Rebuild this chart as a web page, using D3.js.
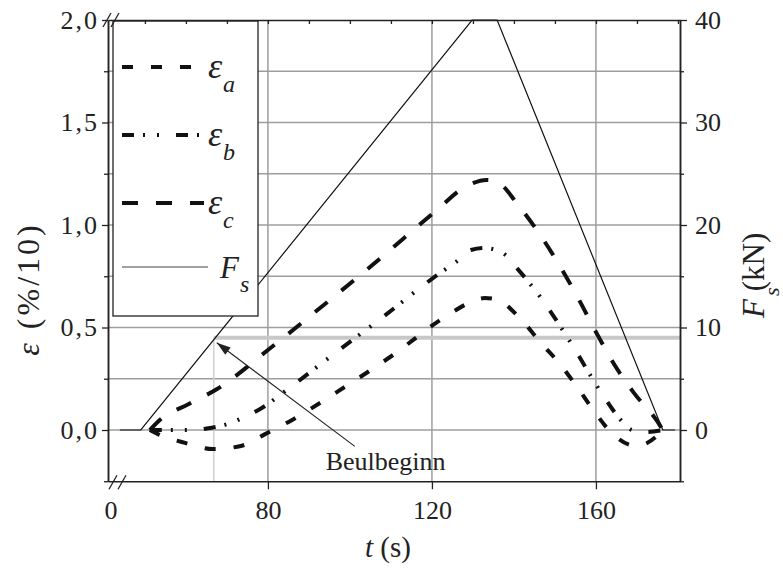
<!DOCTYPE html>
<html><head><meta charset="utf-8">
<script src="https://cdn.jsdelivr.net/npm/d3@7"></script>
<style>
body{margin:0;background:#fff}
svg{display:block}
</style>
</head><body>
<svg id="c" width="783" height="569"></svg>
<script>
// ---- data ----
const tA   = [51.2, 53.2, 59.8, 66.6, 73.4, 79.3, 85.9, 96.8, 109.8, 123.9, 129.5, 132.9, 136.1, 141.2, 146.8, 151.0, 155.4, 159.5, 164.1, 169.8, 175.6, 176.3];
const epsA = [0, -0.02, -0.063, -0.093, -0.078, -0.02, 0.049, 0.185, 0.356, 0.561, 0.624, 0.644, 0.634, 0.551, 0.42, 0.327, 0.21, 0.093, -0.02, -0.078, -0.015, 0];
const tB   = [51.2, 60.7, 65.9, 69.5, 73.9, 78.5, 83.9, 95.1, 107.3, 122.0, 125.9, 129.5, 132.7, 137.3, 140.7, 146.6, 153.9, 161.2, 166.3, 168.8, 172.0, 176.3];
const epsB = [0, 0, 0.01, 0.025, 0.06, 0.107, 0.185, 0.356, 0.54, 0.766, 0.82, 0.878, 0.888, 0.863, 0.79, 0.644, 0.424, 0.185, 0.044, 0, -0.01, 0];
const tC   = [51.2, 53.7, 60.7, 67.6, 80, 92.7, 104.9, 121.2, 128.0, 133.4, 135.9, 141.2, 151.5, 155.9, 160, 164.4, 169.3, 174.9, 176.3];
const epsC = [0, 0.05, 0.127, 0.2, 0.39, 0.595, 0.795, 1.073, 1.185, 1.22, 1.21, 1.093, 0.79, 0.634, 0.478, 0.322, 0.18, 0.044, 0];
const tF   = [43.9, 49.0, 129.8, 135.9, 176.3, 179.3];
const Fs   = [0, 0, 40, 40, 0, 0];
const tBeul = 66.8, FBeul = 9;
const xTicks = [80, 120, 160];
const xMinor = [50, 60, 70, 80, 90, 100, 110, 120, 130, 140, 150, 160, 170, 180];
const yTicks = [0, 0.5, 1.0, 1.5, 2.0];
const yMinor = [-0.25, 0.25, 0.75, 1.25, 1.75];
const fTicks = [0, 10, 20, 30, 40];
const fMinor = [-5, 5, 15, 25, 35];
const gridY = [0, 0.25, 0.5, 0.75, 1.0, 1.25, 1.5, 1.75];
const legendNames = ["a", "b", "c"];

const FONT = "'Liberation Serif'";

// ---- scales ----
const svg = d3.select('#c');
const x  = d3.scaleLinear().domain([41, 180.5]).range([108, 680]);
const yL = d3.scaleLinear().domain([-0.25, 2.0]).range([481.25, 20]);
const yR = d3.scaleLinear().domain([-5, 40]).range([481.25, 20]);
const X0 = x.range()[0], X1 = x.range()[1], Y0 = yL.range()[0], Y1 = yL.range()[1];

function txt(sel, size, italic) {
  return sel.attr('font-family', null).style('font-family', FONT).style('font-size', size + 'px')
    .style('font-style', italic ? 'italic' : 'normal').style('fill', '#222');
}

// ---- grid ----
const grid = svg.append('g');
grid.selectAll('.gy').data(gridY).join('line')
  .attr('x1', X0).attr('x2', X1).attr('y1', d => yL(d)).attr('y2', d => yL(d))
  .attr('stroke', '#9e9e9e').attr('stroke-width', 1.5);
grid.selectAll('.gx').data(xTicks).join('line')
  .attr('x1', d => x(d)).attr('x2', d => x(d)).attr('y1', Y1).attr('y2', Y0)
  .attr('stroke', '#9e9e9e').attr('stroke-width', 1.5);

// Beulbeginn marker lines
svg.append('line').attr('x1', x(tBeul)).attr('x2', X1).attr('y1', yR(FBeul)).attr('y2', yR(FBeul))
  .attr('stroke', '#c8c8c8').attr('stroke-width', 4);
svg.append('line').attr('x1', x(tBeul)).attr('x2', x(tBeul)).attr('y1', yR(FBeul)).attr('y2', Y0)
  .attr('stroke', '#d2d2d2').attr('stroke-width', 1.5);

// ---- lines ----
const lineL = d3.line().x(d => x(d[0])).y(d => yL(d[1])).curve(d3.curveMonotoneX);
const lineF = d3.line().x(d => x(d[0])).y(d => yR(d[1]));
const styles = {
  a: {dash: '11,18'},
  b: {dash: '12,9,2,12,2,17'},
  c: {dash: '16,18'}
};
svg.append('path').attr('d', lineF(d3.zip(tF, Fs)))
  .attr('fill', 'none').attr('stroke', '#111').attr('stroke-width', 1.2);
[[tA, epsA, 'a'], [tB, epsB, 'b'], [tC, epsC, 'c']].forEach(([t, e, k]) => {
  svg.append('path').attr('d', lineL(d3.zip(t, e)))
    .attr('fill', 'none').attr('stroke', '#111').attr('stroke-width', 4)
    .attr('stroke-dasharray', styles[k].dash);
});

// ---- legend ----
const lg = svg.append('g');
lg.append('rect').attr('x', 113).attr('y', 21).attr('width', 145).attr('height', 295)
  .attr('fill', '#fff').attr('stroke', '#222').attr('stroke-width', 1.3);
legendNames.forEach((k, i) => {
  const yy = 67 + i * 68;
  lg.append('line').attr('x1', 122).attr('x2', 204).attr('y1', yy).attr('y2', yy)
    .attr('stroke', '#111').attr('stroke-width', 4).attr('stroke-dasharray', styles[k].dash);
  txt(lg.append('text').attr('x', 208).attr('y', yy + 11), 36, true).text('ε');
  txt(lg.append('text').attr('x', 223).attr('y', yy + 25), 24, true).text(k);
});
lg.append('line').attr('x1', 122).attr('x2', 208).attr('y1', 267).attr('y2', 267)
  .attr('stroke', '#808080').attr('stroke-width', 1.5);
txt(lg.append('text').attr('x', 220).attr('y', 278), 31, true).text('F');
txt(lg.append('text').attr('x', 240).attr('y', 292), 24, true).text('s');

// ---- axes ----
const fmt = d => d.toFixed(1).replace('.', ',');
const axL = svg.append('g').attr('transform', `translate(${X0},0)`)
  .call(d3.axisLeft(yL).tickValues(yTicks).tickSize(6).tickSizeOuter(0).tickPadding(7).tickFormat(fmt));
svg.append('g').attr('transform', `translate(${X0},0)`)
  .call(d3.axisLeft(yL).tickValues(yMinor).tickSize(4).tickSizeOuter(0).tickFormat(''));
const axR = svg.append('g').attr('transform', `translate(${X1},0)`)
  .call(d3.axisRight(yR).tickValues(fTicks).tickSize(7).tickSizeOuter(0).tickPadding(8).tickFormat(d3.format('d')));
svg.append('g').attr('transform', `translate(${X1},0)`)
  .call(d3.axisRight(yR).tickValues(fMinor).tickSize(4).tickSizeOuter(0).tickFormat(''));
const axB = svg.append('g').attr('transform', `translate(0,${Y0})`)
  .call(d3.axisBottom(x).tickValues(xTicks).tickSize(8).tickSizeOuter(0).tickPadding(11).tickFormat(d3.format('d')));
svg.append('g').attr('transform', `translate(0,${Y1})`)
  .call(d3.axisBottom(x).tickValues(xMinor).tickSize(4).tickSizeOuter(0).tickFormat(''));
svg.selectAll('g').attr('font-family', null).attr('font-size', null);
svg.selectAll('.domain').attr('stroke', '#222').attr('stroke-width', 1.5);
svg.selectAll('.tick line').attr('stroke', '#222').attr('stroke-width', 1.3);
txt(svg.selectAll('.tick text'), 26, false);
axL.selectAll('.tick text').style('letter-spacing', '2px').attr('x', -9);

// x-axis break label "0"
txt(svg.append('text').attr('x', X0 + 3).attr('y', 519).attr('text-anchor', 'middle'), 26, false).text('0');
// break marks
const brk = [[X0 - 5, Y1 + 7, X0 + 3, Y1 - 7], [X0 + 3, Y1 + 7, X0 + 11, Y1 - 7],
             [X0 + 1, Y0 + 8, X0 + 9, Y0 - 6], [X0 + 10, Y0 + 8, X0 + 18, Y0 - 6]];
svg.append('g').selectAll('line').data(brk).join('line')
  .attr('x1', d => d[0]).attr('y1', d => d[1]).attr('x2', d => d[2]).attr('y2', d => d[3])
  .attr('stroke', '#222').attr('stroke-width', 1.3);

// ---- titles ----
const tx = txt(svg.append('text').attr('x', 388).attr('y', 557).attr('text-anchor', 'middle'), 29, false);
tx.append('tspan').style('font-style', 'italic').text('t');
tx.append('tspan').text(' (s)');

const tl = txt(svg.append('text').attr('transform', 'translate(39,289) rotate(-90)')
  .attr('text-anchor', 'middle'), 32, false).style('letter-spacing', '3px');
tl.append('tspan').style('font-style', 'italic').text('ε');
tl.append('tspan').text(' (%/10)');

const gr = svg.append('g').attr('transform', 'translate(764,318) rotate(-90)');
const tr = txt(gr.append('text').attr('x', 0).attr('y', 0), 31, false);
tr.append('tspan').style('font-style', 'italic').text('F');
tr.append('tspan').text(' (kN)');
txt(gr.append('text').attr('x', 22).attr('y', 15), 22, true).text('s');

// ---- annotation ----
const tip = [x(tBeul) + 3, yR(FBeul) + 5];
const tail = [x(101.2), yR(-1.6)];
svg.append('line').attr('x1', tail[0]).attr('y1', tail[1]).attr('x2', tip[0]).attr('y2', tip[1])
  .attr('stroke', '#222').attr('stroke-width', 1.1);
const ang = Math.atan2(tip[1] - tail[1], tip[0] - tail[0]);
const L = 14, Wd = 4.5;
const bx = tip[0] - L * Math.cos(ang), by = tip[1] - L * Math.sin(ang);
svg.append('path').attr('d', `M${tip[0]},${tip[1]}L${bx + Wd * Math.sin(ang)},${by - Wd * Math.cos(ang)}L${bx - Wd * Math.sin(ang)},${by + Wd * Math.cos(ang)}Z`)
  .attr('fill', '#222');
txt(svg.append('text').attr('x', x(94.1)).attr('y', 470), 26, false).text('Beulbeginn');
</script>
</body></html>
